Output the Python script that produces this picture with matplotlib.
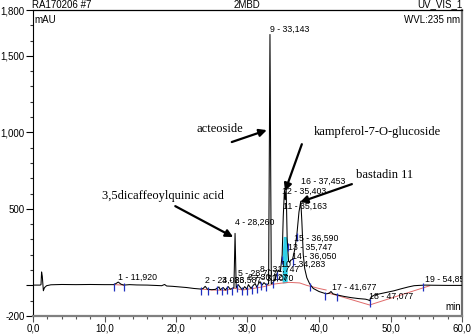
import numpy as np
import matplotlib
matplotlib.use("Agg")
import matplotlib.pyplot as plt

# ---------------- data ----------------
# chromatogram trace (time in min, signal in mAU)
trace_t = [0.0, 1.0, 1.12, 1.2, 1.3, 1.45, 1.6, 1.9, 2.5, 4.0, 6.0, 8.0, 10.0, 11.3, 11.6, 11.92, 12.3, 12.7,
           13.5, 14.5, 16.0, 17.0, 18.0, 18.4, 18.7, 19.5, 20.5, 21.5, 22.5, 23.5, 23.8, 24.083, 24.4, 25.0,
           25.5, 26.0, 26.2, 26.6, 26.9, 27.3, 27.6, 27.9, 28.1, 28.26, 28.42, 28.707, 29.0, 29.3, 29.6, 29.9,
           30.127, 30.5, 30.8, 31.07, 31.3, 31.5, 31.747, 32.0, 32.3, 32.6, 32.95, 33.143, 33.33, 33.6, 33.9,
           34.283, 34.6, 34.85, 35.0, 35.163, 35.28, 35.403, 35.55, 35.747, 35.9, 36.05, 36.3, 36.59, 36.9,
           37.2, 37.453, 37.6, 37.8, 38.0, 38.3, 38.7, 39.2, 40.0, 41.0, 41.4, 41.677, 41.95, 42.5, 43.5,
           44.5, 45.5, 46.5, 46.9, 47.077, 47.3, 47.8, 48.5, 49.5, 50.5, 51.5, 52.5, 53.3, 54.0, 54.85, 56.0,
           58.0, 60.0]
trace_v = [2, 2, 5, 88, 60, -35, -15, -2, 4, 6, 5, 6, 5, 5, 12, 22, 8, 2,
           5, 3, 2, 0, -2, 6, -4, -6, -10, -14, -20, -24, -20, -6, -25, -28,
           -26, -10, -28, -14, -30, -8, -25, -20, -15, 340, -15, 5, -14, -30, -8, -24,
           5, -20, 0, 12, -12, 8, 25, 0, 18, 5, 10, 1640, 10, 20, 45,
           100, 90, 200, 450, 620, 560, 640, 300, 160, 150, 165, 170, 230, 330,
           480, 550, 420, 200, 110, 50, 10, -20, -40, -55, -52, -40, -55, -62, -72,
           -80, -86, -90, -95, -100, -75, -62, -55, -45, -35, -22, -10, -2, 0, 2, 1,
           0, 0]

# integration baseline segments (red)
base1_t = [11.3, 12.7]
base1_v = [5, 2]
base2_t = [23.5, 25.0, 27.0, 28.1, 29.3, 30.8, 32.3, 33.6, 34.6, 35.8, 37.3, 38.3, 40.0, 41.0]
base2_v = [-24, -30, -32, -18, -30, -20, -8, 8, 14, 20, 16, 0, -20, -30]
base3_t = [41.3, 42.5, 47.077, 55.5]
base3_v = [-50, -65, -128, -2]

# peak delimiters (blue ticks)
delim_t = [11.3, 12.7, 23.5, 24.5, 25.8, 26.4, 27.1, 27.8, 28.6, 29.2, 29.9, 30.6, 31.3, 31.9,
           32.6, 33.6, 34.1, 34.8, 35.6, 36.3, 36.9, 38.8, 40.9, 42.5, 47.077, 54.5]

# peak labels
peak_labels = ["1 - 11,920", "2 - 24,083", "3 - 26,587", "4 - 28,260", "5 - 28,707", "6 - 30,127",
               "7 - 31,070", "8 - 31,747", "9 - 33,143", "10 - 34,283", "11 - 35,163", "12 - 35,403",
               "13 - 35,747", "14 - 36,050", "15 - 36,590", "16 - 37,453", "17 - 41,677", "18 - 47,077",
               "19 - 54,853"]
peak_label_t = [11.92, 24.08, 26.4, 28.26, 28.67, 30.07, 30.9, 31.75, 33.143, 34.75, 34.97, 34.78,
                35.66, 36.18, 36.5, 37.44, 41.8, 47.0, 54.8]
peak_label_v = [54, 35, 35, 415, 80, 54, 48, 105, 1675, 135, 514, 618,
                252, 187, 309, 682, -14, -70, 41]

# compound annotations: text, text position, arrow tail, arrow head
compounds = ["3,5dicaffeoylquinic acid", "acteoside", "kampferol-7-O-glucoside", "bastadin 11"]
comp_text_t = [9.6, 22.8, 39.2, 45.2]
comp_text_v = [582, 1021, 1002, 720]
arrow_tail_t = [19.9, 27.8, 37.6, 44.6]
arrow_tail_v = [518, 937, 923, 662]
arrow_head_t = [28.0, 32.7, 35.25, 37.35]
arrow_head_v = [316, 1015, 616, 544]

xticks = [0, 10, 20, 30, 40, 50, 60]
xtick_labels = ["0,0", "10,0", "20,0", "30,0", "40,0", "50,0", "60,0"]
yticks = [-200, 0, 500, 1000, 1500, 1800]
ytick_labels = ["-200", "", "500", "1,000", "1,500", "1,800"]

# ---------------- figure ----------------
plt.rcParams['font.family'] = ['Liberation Sans', 'DejaVu Sans']
W, H = 472, 334
fig = plt.figure(figsize=(W / 100, H / 100), dpi=100)
ax = fig.add_axes([33 / W, 18 / H, 429 / W, 306 / H])
ax.set_xlim(0, 60)
ax.set_ylim(-200, 1800)

tt = np.array(trace_t)
vv = np.array(trace_v)

# cyan fill under peaks 11/12
mask = (tt >= 34.85) & (tt <= 35.6)
ax.fill_between(tt[mask], np.interp(tt[mask], base2_t, base2_v), np.minimum(vv[mask], 320),
                color='#30d0e8', lw=0, zorder=1)

ax.plot(base1_t, base1_v, color='#e06a6a', lw=0.7, zorder=2)
ax.plot(base2_t, base2_v, color='#e06a6a', lw=0.7, zorder=2)
ax.plot(base3_t, base3_v, color='#e06a6a', lw=0.7, zorder=2)

ax.plot(tt, vv, color='black', lw=0.75, zorder=3)

dv = np.interp(delim_t, tt, vv)
ax.vlines(delim_t, dv - 40, dv + 12, color='#2030c0', lw=0.9, zorder=4)

for lab, t, v in zip(peak_labels, peak_label_t, peak_label_v):
    ax.text(t, v, lab, fontsize=6.3, ha='left', va='center', color='black', zorder=5, clip_on=True)

for lab, xt, yt, at, av, ht, hv in zip(compounds, comp_text_t, comp_text_v, arrow_tail_t, arrow_tail_v,
                                       arrow_head_t, arrow_head_v):
    ax.text(xt, yt, lab, fontsize=9, family='Liberation Serif', ha='left', va='center', zorder=6)
    ax.annotate("", xy=(ht, hv), xytext=(at, av),
                arrowprops=dict(arrowstyle='-|>', color='black', lw=1.6, mutation_scale=11,
                                shrinkA=0, shrinkB=0), zorder=6)

# axes styling
ax.set_xticks(xticks)
ax.set_xticklabels(xtick_labels)
ax.set_xticks(np.arange(0, 61, 2), minor=True)
ax.set_yticks(yticks)
ax.set_yticklabels(ytick_labels)
ax.set_yticks(np.arange(-200, 1801, 100), minor=True)
ax.tick_params(axis='x', which='major', direction='out', length=4, width=0.8, color='#555555',
               labelsize=7, pad=1.5)
ax.tick_params(axis='x', which='minor', direction='out', length=2.5, width=0.8, color='#555555')
ax.tick_params(axis='y', which='major', direction='out', length=5, width=0.8, color='black',
               labelsize=7, pad=1)
ax.tick_params(axis='y', which='minor', direction='out', length=2.5, width=0.8, color='#333333')

ax.spines['left'].set_color('black')
ax.spines['left'].set_linewidth(0.8)
ax.spines['top'].set_color('black')
ax.spines['top'].set_linewidth(0.9)
ax.spines['right'].set_color('#707070')
ax.spines['right'].set_linewidth(1.6)
ax.spines['bottom'].set_color('#808080')
ax.spines['bottom'].set_linewidth(1.6)

# header and inner labels
fig.text(32 / W, 1 - 4.5 / H, "RA170206 #7", fontsize=7, ha='left', va='center')
fig.text(247 / W, 1 - 4.5 / H, "2MBD", fontsize=7, ha='center', va='center')
fig.text(462 / W, 1 - 4.5 / H, "UV_VIS_1", fontsize=7, ha='right', va='center')
ax.text(0.003, 0.985, "mAU", transform=ax.transAxes, fontsize=7, ha='left', va='top')
ax.text(0.995, 0.985, "WVL:235 nm", transform=ax.transAxes, fontsize=7, ha='right', va='top')
ax.text(0.997, 0.012, "min", transform=ax.transAxes, fontsize=7, ha='right', va='bottom')

fig.savefig("out.png", dpi=100)
